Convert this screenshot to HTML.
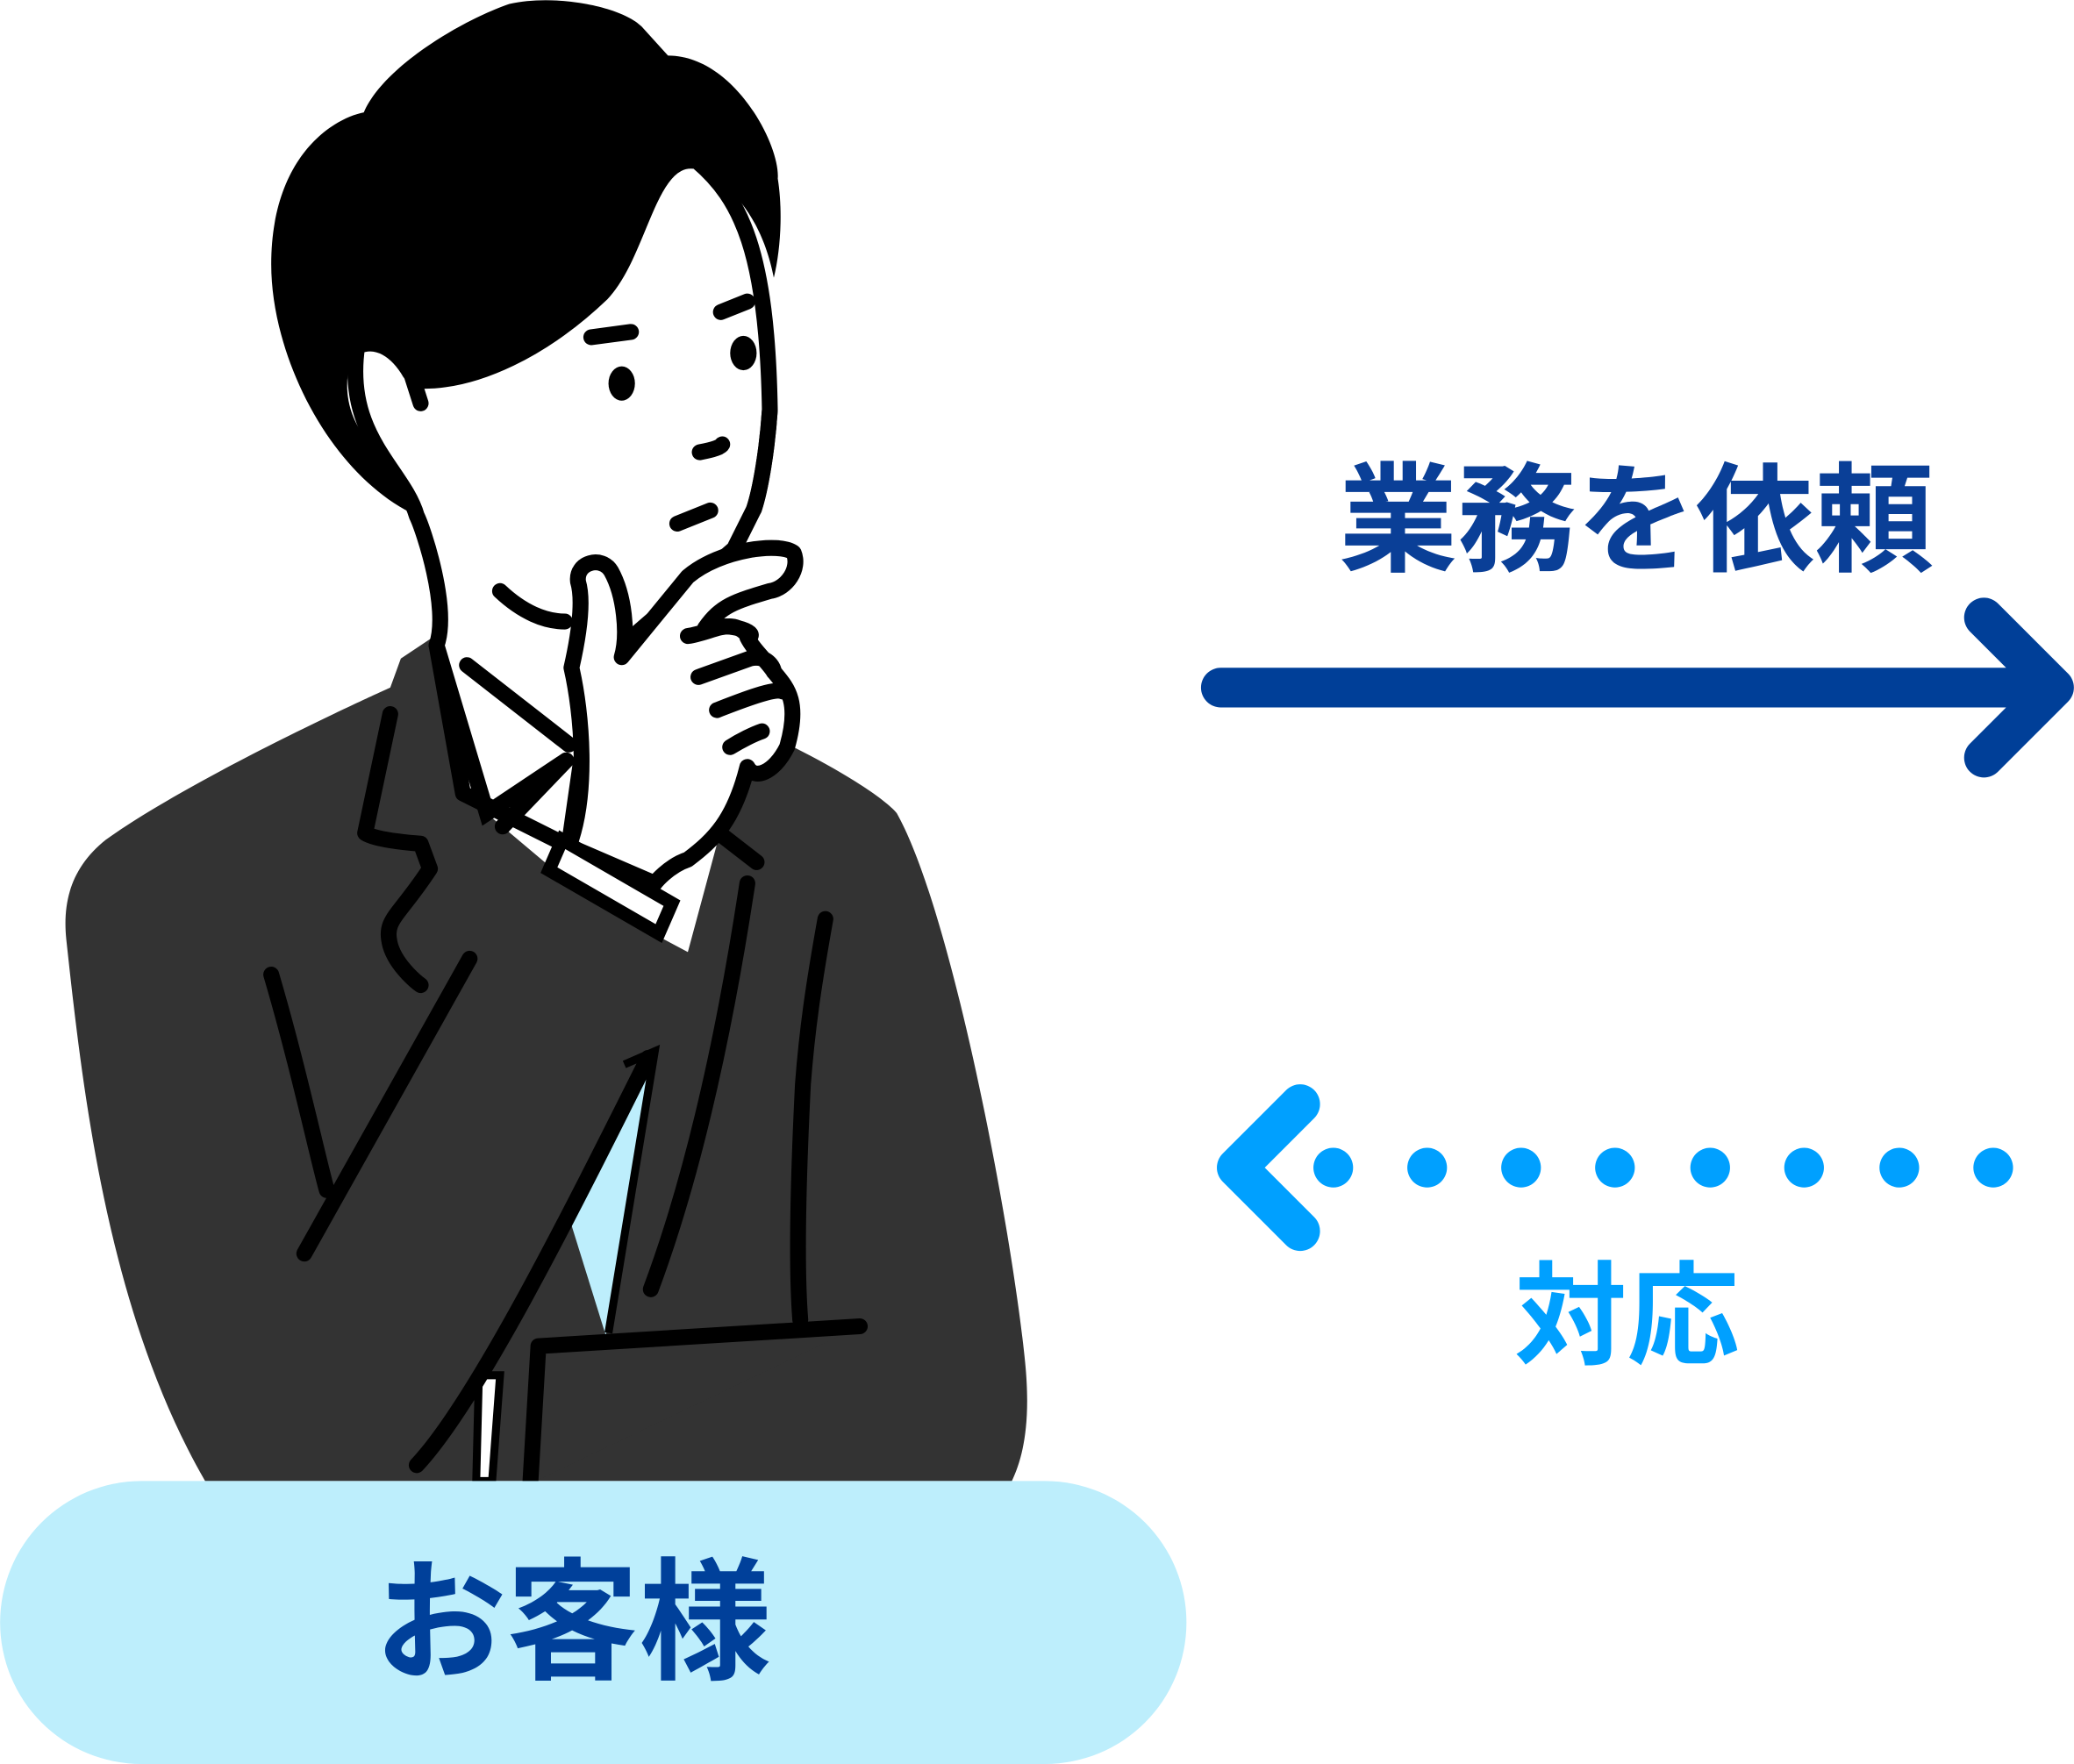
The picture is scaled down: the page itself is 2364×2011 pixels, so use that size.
<!DOCTYPE html>
<html><head><meta charset="utf-8"><style>
html,body{margin:0;padding:0;background:#fff;}
svg{display:block;}
text{font-family:"Liberation Sans","Noto Sans CJK JP",sans-serif;font-weight:bold;}
</style></head><body>
<svg width="2364" height="2011" viewBox="0 0 1568 1334" xmlns="http://www.w3.org/2000/svg">
<path d="M155,1120 C80,990 62,820 50,710 C47,680 55,655 80,635 C150,585 295,520 295,520 L303,498 L330,480 L350,600 L445,680 L520,720 L555,590 L600,565 C640,585 670,605 678,615 C720,690 765,930 775,1030 C780,1080 772,1105 765,1120 Z" fill="#333"/>
<polygon points="430,920 495,795 458,1010" fill="#bdeefc"/>
<path d="M472,805 L495,795 L460,1008" fill="none" stroke="#000" stroke-width="6"/>
<polygon points="362,1040 378,1040 372,1120 360,1120" fill="#fff" stroke="#000" stroke-width="6"/>
<polygon points="410,1020 650,1003 405,1120 398,1120" fill="#333"/>
<path d="M407,1018 L650,1003 M407,1018 L401,1120" fill="none" stroke="#000" stroke-width="12" stroke-linecap="round"/>
<g fill="none" stroke="#000" stroke-width="12" stroke-linecap="round" stroke-linejoin="round">
<path d="M295,540 L276,630 C285,636 318,638 318,638 L325,657 C300,695 290,695 295,715 C300,732 318,745 318,745"/>
<path d="M205,737 C225,805 240,875 247,900"/>
<path d="M355,725 L230,948"/>
<path d="M565,668 C545,800 520,900 492,975"/>
<path d="M624,695 C615,745 610,780 607,820 C603,900 602,960 605,998"/>
<path d="M490,800 C430,920 360,1060 315,1108"/>
<path d="M541,628 L572,652"/>
</g>
<path d="M205,200 C205,120 250,90 275,85 C290,50 350,15 385,3 C420,-5 470,5 485,20 L505,42 C555,42 590,110 588,135 C592,160 590,190 585,210 C575,160 550,140 527,122 C490,115 485,190 455,222 C410,265 360,288 320,288 L310,280 C300,265 285,255 270,260 C255,290 260,330 305,355 L315,390 C250,360 205,270 205,200 Z" fill="#000"/>
<path d="M320,288 C360,288 410,265 455,222 C485,190 490,115 527,122 C560,150 580,190 582,310 C580,340 575,370 570,385 L555,415 L480,480 L440,570 L430,640 L350,600 L330,488 C340,460 320,400 315,390 C305,355 260,330 270,262 C285,255 300,265 310,282 Z" fill="#fff" stroke="#000" stroke-width="12" stroke-linejoin="round"/>
<path d="M330,488 L368,615 L428,575 M353,503 L430,563 M380,625 L428,575" fill="none" stroke="#000" stroke-width="12" stroke-linecap="round"/>
<path d="M430,640 C445,600 440,540 432,505 C440,470 440,450 437,440 C435,425 455,420 462,432 C472,450 475,480 470,497 L520,436 C545,415 590,410 600,418 C605,430 595,445 582,447 C555,455 545,458 533,475 C555,470 575,480 565,482 C570,492 580,500 585,508 C595,520 605,530 595,565 C585,585 570,590 565,580 C555,620 540,635 520,650 C505,655 495,668 495,668 Z" fill="#fff" stroke="#000" stroke-width="12" stroke-linejoin="round"/>
<polygon points="425,635 508,683 498,706 415,658" fill="#fff" stroke="#000" stroke-width="10"/>
<g fill="none" stroke="#000" stroke-width="12" stroke-linecap="round">
<path d="M378,447 C395,463 412,470 427,470"/>
<path d="M447,255 L477,251 M545,236 L565,228"/>
<path d="M529,342 C540,340 545,338 546,336"/>
<path d="M512,396 L537,386"/>
<path d="M582,310 C580,340 575,370 570,385"/>
<path d="M310,280 L318,305"/>
<path d="M520,481 C540,478 555,465 567,483"/>
<path d="M528,512 L567,498 C580,495 585,505 585,508"/>
<path d="M542,537 C560,530 585,520 592,523"/>
<path d="M552,565 C560,560 570,555 576,553"/>
</g>
<ellipse cx="470" cy="290" rx="10" ry="13" fill="#000"/>
<ellipse cx="562" cy="267" rx="10" ry="13" fill="#000"/>
<rect x="0" y="1120" width="897" height="214" rx="107" fill="#bdeefc"/>
<text x="433" y="1262" font-size="100" fill="#00409a" text-anchor="middle">お客様</text>
<text x="1237" y="425" font-size="90" fill="#0a3f97" text-anchor="middle">業務を依頼</text>
<g fill="none" stroke="#003f98" stroke-width="30" stroke-linecap="round" stroke-linejoin="round">
<path d="M923,520 L1550,520 M1500,467 L1553,520 L1500,573"/>
</g>
<g fill="#00a0ff">
<circle cx="1008" cy="883" r="15"/><circle cx="1079" cy="883" r="15"/><circle cx="1150" cy="883" r="15"/><circle cx="1221" cy="883" r="15"/><circle cx="1293" cy="883" r="15"/><circle cx="1364" cy="883" r="15"/><circle cx="1436" cy="883" r="15"/><circle cx="1507" cy="883" r="15"/>
</g>
<path d="M983,835 L935,883 L983,931" fill="none" stroke="#00a0ff" stroke-width="30" stroke-linecap="round" stroke-linejoin="round"/>
<text x="1230" y="1025" font-size="85" fill="#00a0ff" text-anchor="middle">対応</text>
</svg>
</body></html>
